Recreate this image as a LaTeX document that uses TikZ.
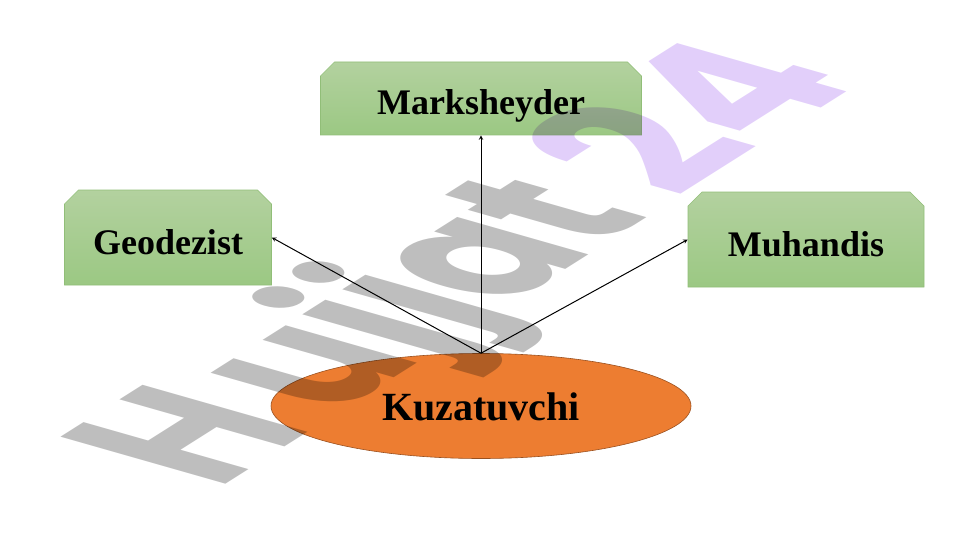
\documentclass[tikz,border=0pt]{standalone}
\usepackage{fontspec}
\setmainfont{Liberation Serif}
\newfontfamily\stampfont{Poppins}
\usetikzlibrary{positioning,shapes.geometric,shapes.misc}
\definecolor{boxtop}{RGB}{179,209,159}
\definecolor{boxbot}{RGB}{155,200,131}
\definecolor{boxline}{RGB}{145,190,120}
\definecolor{eye}{RGB}{237,125,49}
\definecolor{stampgrey}{RGB}{190,190,190}
\definecolor{stamplilac}{RGB}{226,207,250}
\tikzset{
  job/.style = {chamfered rectangle, chamfered rectangle corners={north west,north east}, chamfered rectangle xsep=8pt, chamfered rectangle ysep=6pt, draw=boxline, line width=0.6pt, top color=boxtop, bottom color=boxbot, inner sep=0pt, text height=33pt, text depth=0pt, font=\fontsize{36}{40}\selectfont\bfseries},
  link/.style = {draw, line width=1pt, -stealth}
}
\begin{document}
\begin{tikzpicture}[x = 1pt, y = -1pt]
\useasboundingbox (0,0) rectangle (960,540);
\node[job, minimum width = 321pt, minimum height = 73pt] (marksheyder) at (481,98.5) {Marksheyder};
\node[job, minimum width = 207pt, minimum height = 95pt] (geodezist) at (168,237.5) {Geodezist};
\node[job, minimum width = 236pt, minimum height = 95pt] (muhandis) at (806,239.5) {Muhandis};
\node[ellipse, draw = eye!65!black, line width = 0.6pt, fill = eye, inner sep = 0pt, minimum width = 420pt, minimum height = 105pt, text height = 28pt, text depth = 0pt, font = \fontsize{40}{44}\selectfont\bfseries] (kuzatuvchi) at (481,406) {Kuzatuvchi};
\draw[link] (kuzatuvchi.north) -- (marksheyder.south);
\draw[link] (kuzatuvchi.north) -- (geodezist.east);
\draw[link] (kuzatuvchi.north) -- (muhandis.west);
\begin{scope}[blend mode = multiply, cm = {1.35,.854,-2.35,.67,(217,490)}]
\node[transform shape, anchor = base west, inner sep = 0pt, font = \stampfont\fontsize{100}{100}\selectfont\bfseries] (stamp) at (0,0) {\textcolor{stampgrey}{H\hspace{14pt}ujjat} \hspace{-2pt}\textcolor{stamplilac}{\scalebox{1.11}[1]{24}}};
\end{scope}
\end{tikzpicture}
\end{document}
